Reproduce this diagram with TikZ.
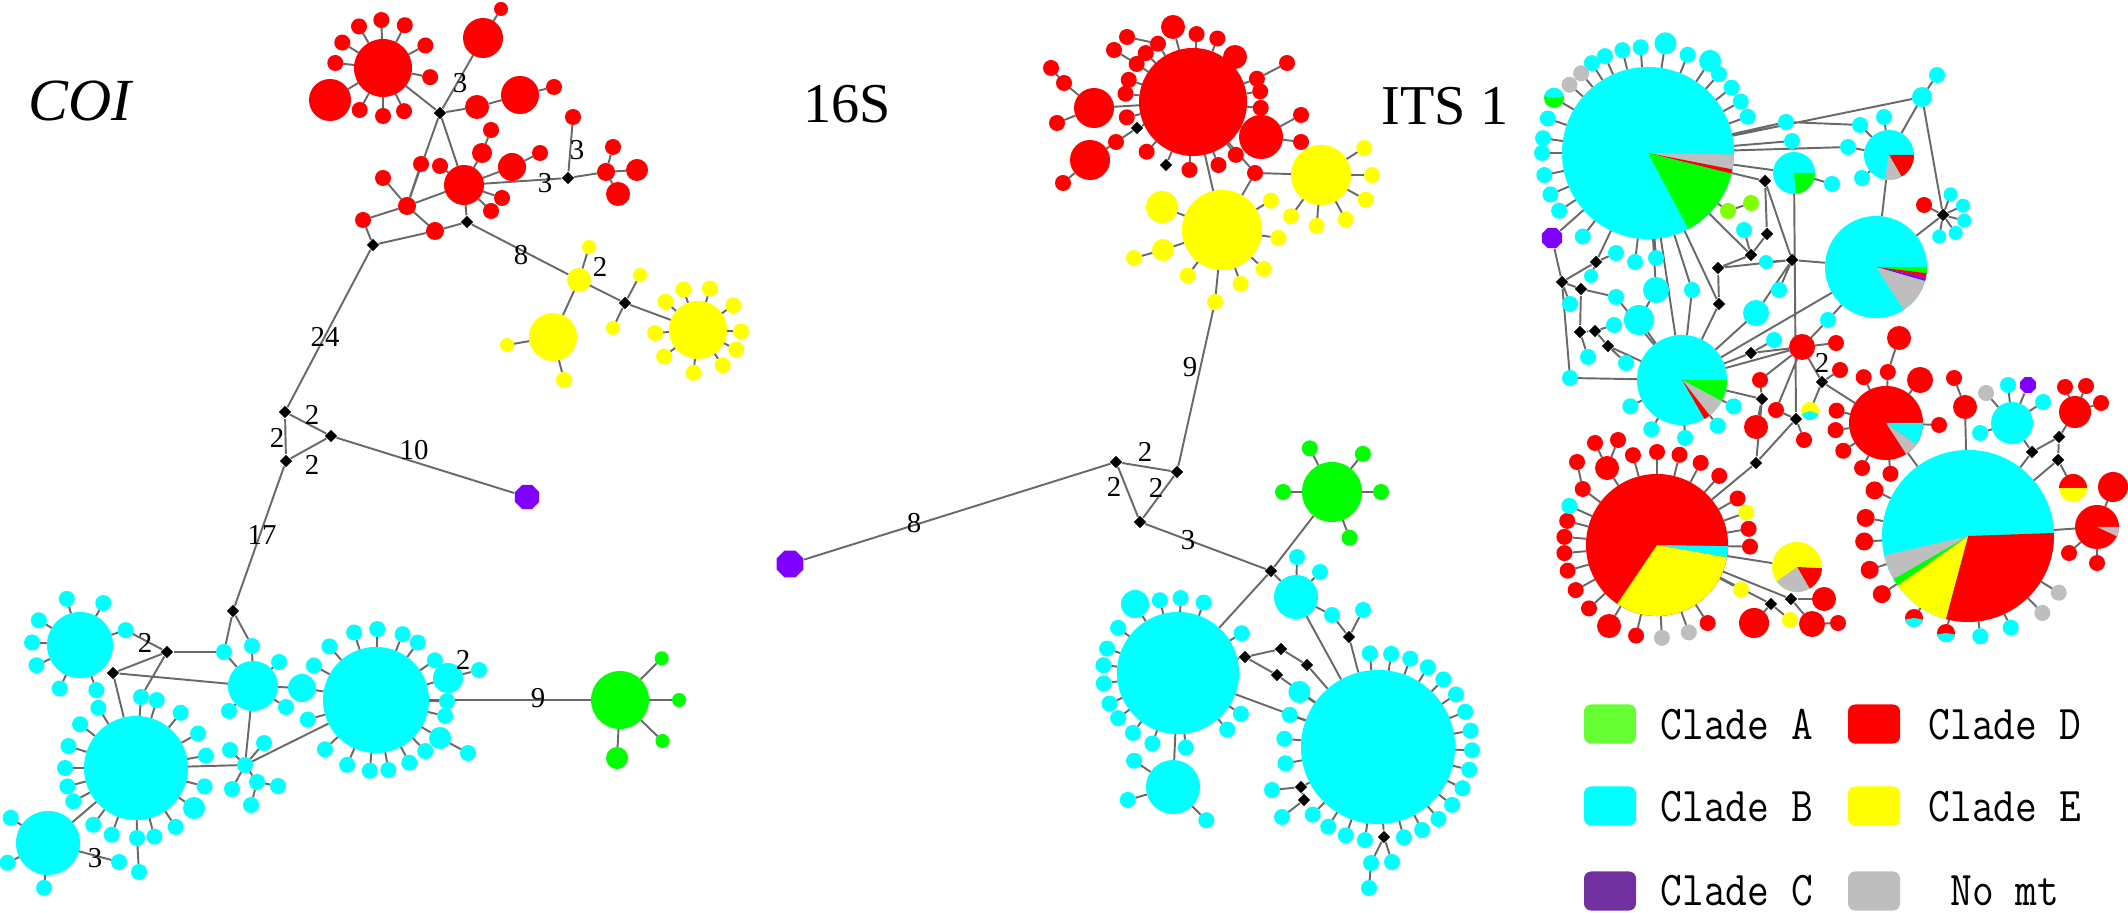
\documentclass[tikz,border=0pt]{standalone}
\usepackage{fontspec}
\setmainfont{Liberation Serif}
\usepackage{graphicx}
\usetikzlibrary{shapes.geometric,calc}
\definecolor{cR}{RGB}{255,0,0}
\definecolor{cC}{RGB}{0,255,255}
\definecolor{cY}{RGB}{255,255,0}
\definecolor{cG}{RGB}{0,255,0}
\definecolor{cL}{RGB}{128,255,0}
\definecolor{cP}{RGB}{128,0,255}
\definecolor{cGr}{RGB}{190,190,190}
\definecolor{lG}{RGB}{102,255,51}
\definecolor{lP}{RGB}{112,48,160}
\definecolor{edc}{RGB}{105,105,105}
\pgfdeclarelayer{back}
\pgfdeclarelayer{bg}
\pgfsetlayers{back,bg,main}
\newcommand\Hap[4]{\node[hp,fill=#4,minimum size=#3*0.2mm] (#1) at (#2) {};}
\newcommand\Dm[2]{\node[dm] (#1) at (#2) {};}
\newcommand\Ring[5]{\foreach \rA in {#5}{\node[hp,fill=#4,minimum size=#3*0.2mm] (#1-\rA) at ($(#1)+(\rA:#2)$) {};\begin{pgfonlayer}{bg}\draw[ed] (#1) -- (#1-\rA);\end{pgfonlayer}}}
\newcommand\Wedge[5]{\fill[#5] (#1.center) -- ++(#2:#4) arc[start angle=#2,end angle=#3,radius=#4] -- cycle;}
\newcommand\LT[1]{\scalebox{1}[1.15]{#1}}
\begin{document}
\begin{tikzpicture}[x=0.01cm,y=0.01cm,
  hp/.style={circle,inner sep=0pt,outer sep=0pt,draw=none},
  oct/.style={regular polygon,regular polygon sides=8,inner sep=0pt,draw=none},
  dm/.style={diamond,fill=black,inner sep=0pt,minimum size=0.13cm},
  ed/.style={draw=edc,line width=0.55pt},
  lab/.style={inner sep=0pt,font=\fontsize{8.2}{9}\selectfont},
  ttl/.style={inner sep=0pt,font=\fontsize{16}{18}\selectfont},
  lkey/.style={rectangle,rounded corners=2pt,inner sep=0pt,minimum width=0.52cm,minimum height=0.39cm,draw=none},
  legt/.style={anchor=west,inner sep=0pt,font=\ttfamily\fontsize{12}{13}\selectfont}]
\useasboundingbox (0,0) rectangle (2128,-913);
\begin{pgfonlayer}{back}\fill[white] (0,0) rectangle (2128,-913);\end{pgfonlayer}

% ================= COI =================
\node[ttl,font=\fontsize{17}{19}\selectfont\itshape] (tCOI) at (80,-101) {COI};
\Hap{aR1}{383,-68}{29}{cR}
\Ring{aR1}{48}{8}{cR}{120,92,63,28,-11,-64,-90,-119,174,148}
\Hap{aR2}{330,-100}{21}{cR}
\Dm{aD1}{440,-113}
\Hap{aR3}{483,-38}{20}{cR}
\Hap{aR3s}{501,-9}{7}{cR}
\Hap{aR4}{477,-107}{12}{cR}
\Hap{aR5}{520,-95}{19}{cR}
\Hap{aR5s}{554,-87}{8}{cR}
\Hap{aR6}{464,-185}{20}{cR}
\Hap{aRs1}{482,-153}{10}{cR}
\Hap{aRs2}{491,-130}{8}{cR}
\Hap{aRs3}{512,-167}{14}{cR}
\Hap{aRs4}{540,-153}{8}{cR}
\Hap{aRs5}{502,-198}{8}{cR}
\Hap{aRs6}{491,-211}{8}{cR}
\Hap{aRs7}{440,-166}{8}{cR}
\Hap{aRs8}{421,-164}{8}{cR}
\Hap{aRs9}{383,-178}{8}{cR}
\Hap{aN1}{407,-206}{9}{cR}
\Hap{aN2}{363,-220}{8}{cR}
\Hap{aN3}{435,-231}{9}{cR}
\Dm{aD2}{467,-222}
\Dm{aD3}{373,-245}
\Dm{aD4}{568,-178}
\Hap{aR7}{606,-172}{9}{cR}
\Hap{aR8}{613,-147}{8}{cR}
\Hap{aR9}{637,-170}{11}{cR}
\Hap{aR10}{618,-194}{12}{cR}
\Hap{aR11}{573,-117}{8}{cR}
\Hap{aY1}{579,-280}{12}{cY}
\Hap{aY1s}{589,-247}{7}{cY}
\Dm{aD5}{625,-303}
\Hap{aY2}{698,-330}{29}{cY}
\Ring{aY2}{43}{8}{cY}{139,110,74,35,-2,-27,-55,-96,-142,-176}
\Hap{aY3}{553,-337}{24}{cY}
\Hap{aY3a}{507,-345}{7}{cY}
\Hap{aY3b}{564,-380}{8}{cY}
\Hap{aY4}{640,-275}{7}{cY}
\Hap{aY5}{613,-328}{7}{cY}
\Dm{aD6}{285,-412}
\Dm{aD7}{331,-436}
\Dm{aD8}{286,-461}
\node[oct,fill=cP,minimum size=0.26cm] (aP) at (527,-497) {};
\Dm{aD9}{233,-611}
\Hap{aC1}{80,-645}{33}{cC}
\Ring{aC1}{48}{8}{cC}{106,61,149,177,-155,-115,-70,18}
\Dm{aD10}{167,-652}
\Dm{aD11}{113,-673}
\Hap{aC2}{224,-652}{8}{cC}
\Hap{aC3}{252,-646}{8}{cC}
\Hap{aC4}{253,-686}{25}{cC}
\Hap{aC4a}{279,-662}{8}{cC}
\Hap{aC4b}{286,-707}{8}{cC}
\Hap{aC4c}{229,-711}{8}{cC}
\Hap{aC5}{302,-688}{14}{cC}
\Hap{aC6}{376,-700}{53}{cC}
\Ring{aC6}{71}{8}{cC}{108,89,68,54,131,151,34,-1,-13,-46,-62,-80,-95,-114,-136,-164}
\Hap{aC7}{440,-738}{11}{cC}
\Hap{aC7s}{468,-753}{8}{cC}
\Hap{aC8}{448,-678}{15}{cC}
\Hap{aC8s}{479,-670}{8}{cC}
\Hap{aG}{620,-700}{29}{cG}
\Ring{aG}{59}{7}{cG}{45,0,-44}
\Hap{aGb}{617,-758}{11}{cG}
\Hap{aC9}{136,-768}{52}{cC}
\Ring{aC9}{71}{8}{cC}{122,73,51,29,10,-15,-56,-75,-110,-127,-152,-165,180,162,142}
\Hap{aC10}{141,-697}{8}{cC}
\Hap{aC11}{194,-808}{11}{cC}
\Hap{aC12}{137,-838}{8}{cC}
\Hap{aC13}{139,-872}{8}{cC}
\Hap{aC14}{245,-765}{8}{cC}
\Hap{aC14a}{264,-743}{8}{cC}
\Hap{aC14b}{230,-750}{8}{cC}
\Hap{aC14c}{257,-782}{8}{cC}
\Hap{aC14d}{278,-786}{8}{cC}
\Hap{aC14e}{232,-789}{8}{cC}
\Hap{aC14f}{251,-805}{8}{cC}
\Hap{aC15}{48,-843}{32}{cC}
\Ring{aC15}{45}{8}{cC}{146,-154,-95}
\Hap{aC16}{119,-862}{8}{cC}
\node[lab] (la1) at (460,-83) {3};
\node[lab] (la2) at (545,-183) {3};
\node[lab] (la3) at (577,-150) {3};
\node[lab] (la4) at (521,-255) {8};
\node[lab] (la5) at (600,-267) {2};
\node[lab] (la6) at (325,-337) {24};
\node[lab] (la7) at (312,-415) {2};
\node[lab] (la8) at (277,-438) {2};
\node[lab] (la9) at (312,-465) {2};
\node[lab] (la10) at (414,-450) {10};
\node[lab] (la11) at (262,-535) {17};
\node[lab] (la12) at (145,-643) {2};
\node[lab] (la13) at (463,-660) {2};
\node[lab] (la14) at (538,-698) {9};
\node[lab] (la15) at (95,-858) {3};

% ================= 16S =================
\node[ttl] (t16) at (847,-104) {16S};
\Hap{bR1}{1193,-102}{54}{cR}
\Ring{bR1}{68}{8}{cR}{134,121,87,69,20,9,-5,-51,-68,-93,-133,-167,173,161,146}
\Hap{bRa}{1173,-27}{12}{cR}
\Hap{bRb}{1235,-57}{12}{cR}
\Hap{bR2}{1094,-108}{20}{cR}
\Hap{bR2a}{1064,-83}{8}{cR}
\Hap{bR2b}{1051,-68}{8}{cR}
\Hap{bR2c}{1057,-123}{8}{cR}
\Hap{bR3}{1090,-160}{20}{cR}
\Hap{bR3a}{1116,-142}{8}{cR}
\Hap{bR3b}{1063,-183}{8}{cR}
\Dm{bD1}{1137,-128}
\Dm{bD2}{1166,-165}
\Hap{bR4}{1261,-137}{22}{cR}
\Hap{bR4a}{1301,-115}{8}{cR}
\Hap{bR4b}{1301,-142}{8}{cR}
\Hap{bR5}{1114,-50}{8}{cR}
\Hap{bR6}{1127,-37}{8}{cR}
\Hap{bR7}{1287,-63}{8}{cR}
\Hap{bRc}{1255,-173}{8}{cR}
\Hap{bY1}{1222,-230}{40}{cY}
\Ring{bY1}{57}{8}{cY}{31,-8,-43,-71,-127}
\Hap{bY1s}{1215,-302}{8}{cY}
\Hap{bY3}{1162,-207}{16}{cY}
\Hap{bY4}{1163,-250}{11}{cY}
\Hap{bY4a}{1134,-258}{8}{cY}
\Hap{bY2}{1321,-175}{30}{cY}
\Ring{bY2}{51}{8}{cY}{32,0,-29,-61,-95,-126}
\Dm{bD3}{1177,-472}
\Dm{bD4}{1116,-462}
\Dm{bD5}{1140,-522}
\Dm{bD6}{1271,-571}
\node[oct,fill=cP,minimum size=0.29cm] (bP) at (790,-564) {};
\Hap{bG}{1332,-492}{30}{cG}
\Ring{bG}{49}{8}{cG}{117,51,180,0,-69}
\Hap{bC1}{1178,-673}{61}{cC}
\Ring{bC1}{75}{8}{cC}{104,88,70,143,161,174,-172,-156,-143,-127,-110,-84,-49,-33,32}
\Hap{bC1a}{1135,-604}{14}{cC}
\Hap{bC2}{1296,-597}{22}{cC}
\Hap{bC2a}{1297,-557}{8}{cC}
\Hap{bC2b}{1320,-572}{8}{cC}
\Hap{bC2c}{1332,-615}{8}{cC}
\Dm{bD7}{1349,-637}
\Hap{bC2d}{1363,-610}{8}{cC}
\Hap{bC3}{1378,-747}{77}{cC}
\Ring{bC3}{94}{8}{cC}{95,82,70,58,46,34,22,10,-2,-14,-26,-38,-50,-62,-74,-98,-110,-122,-134,-170,175,160}
\Ring{bC3}{96}{11}{cC}{145}
\Dm{bD8}{1245,-657}
\Dm{bD9}{1281,-649}
\Dm{bD10}{1307,-665}
\Dm{bD11}{1277,-675}
\Dm{bD12}{1301,-787}
\Dm{bD13}{1304,-800}
\Dm{bD14}{1384,-837}
\Hap{bC3x}{1272,-790}{8}{cC}
\Hap{bC3y}{1282,-817}{8}{cC}
\Hap{bB1}{1371,-863}{8}{cC}
\Hap{bB2}{1392,-862}{8}{cC}
\Hap{bB3}{1369,-888}{8}{cC}
\Hap{bC4}{1173,-787}{27}{cC}
\Ring{bC4}{47}{8}{cC}{-164,-45,146}
\node[lab] (lb1) at (1190,-367) {9};
\node[lab] (lb2) at (1145,-452) {2};
\node[lab] (lb3) at (1114,-487) {2};
\node[lab] (lb4) at (1156,-488) {2};
\node[lab] (lb5) at (1188,-540) {3};
\node[lab] (lb6) at (914,-523) {8};

% ================= ITS 1 =================
\node[ttl] (tITS) at (1445,-106) {ITS 1};
\Hap{cC1}{1648,-153}{86}{cC}
\Ring{cC1}{106}{8}{cC}{94,104,114,122,161,172,180,-168,-157,-147,68,48,38,29,20,-128}
\Ring{cC1}{104}{8}{cGr}{130,139}
\Ring{cC1}{111}{11}{cC}{81,56}
\Hap{cH1}{1554,-98}{10}{cG}
\node[oct,fill=cP,minimum size=0.22cm] (cP1) at (1552,-238) {};
\Hap{cL2}{1751,-203}{8}{cL}
\Hap{cL3}{1728,-211}{8}{cL}
\Hap{cC2}{1794,-173}{21}{cC}
\Hap{cC3}{1889,-155}{25}{cC}
\Hap{cC4}{1876,-267}{51}{cC}
\Hap{cT1}{1922,-97}{10}{cC}
\Hap{cT1a}{1937,-75}{8}{cC}
\Hap{cT2}{1786,-122}{8}{cC}
\Hap{cT3}{1860,-125}{8}{cC}
\Hap{cT4}{1792,-141}{8}{cC}
\Hap{cT5}{1848,-147}{8}{cC}
\Hap{cT6}{1884,-117}{8}{cC}
\Hap{cT7}{1862,-178}{8}{cC}
\Hap{cT8}{1832,-184}{8}{cC}
\Dm{cDk}{1943,-215}
\Ring{cDk}{22}{7}{cC}{70,25,-15,-55,-100}
\Hap{cDkr}{1924,-205}{8}{cR}
\Dm{cd1}{1765,-181}
\Dm{cd2}{1767,-234}
\Dm{cd3}{1751,-255}
\Dm{cd4}{1718,-268}
\Dm{cd5}{1719,-304}
\Dm{cd6}{1792,-260}
\Dm{cd7}{1596,-262}
\Dm{cd8}{1562,-282}
\Dm{cd9}{1581,-289}
\Dm{cd10}{1580,-332}
\Dm{cd11}{1595,-331}
\Dm{cd12}{1608,-346}
\Dm{cd13}{1751,-353}
\Dm{cd14}{1762,-399}
\Dm{cd15}{1796,-419}
\Dm{cd16}{1822,-382}
\Dm{cd17}{1756,-463}
\Dm{cd18}{2032,-452}
\Dm{cd19}{2059,-437}
\Dm{cd20}{2058,-460}
\Dm{cd21}{1771,-604}
\Dm{cd22}{1791,-599}
\Hap{cM1}{1656,-290}{13}{cC}
\Hap{cM2}{1639,-320}{15}{cC}
\Hap{cM3}{1756,-313}{13}{cC}
\Hap{cM4}{1616,-297}{8}{cC}
\Hap{cM5}{1635,-262}{8}{cC}
\Hap{cM6}{1656,-258}{8}{cC}
\Hap{cM7}{1616,-253}{8}{cC}
\Hap{cM8}{1591,-276}{7}{cC}
\Hap{cM9}{1570,-304}{8}{cC}
\Hap{cM10}{1588,-357}{8}{cC}
\Hap{cM11}{1626,-363}{8}{cC}
\Hap{cM12}{1614,-325}{8}{cC}
\Hap{cM13}{1692,-290}{8}{cC}
\Hap{cM14}{1744,-230}{8}{cC}
\Hap{cM15}{1766,-262}{7}{cC}
\Hap{cM16}{1779,-290}{8}{cC}
\Hap{cM17}{1774,-340}{8}{cC}
\Hap{cM18}{1828,-320}{8}{cC}
\Hap{cM19}{1570,-378}{8}{cC}
\Hap{cC5}{1682,-380}{45}{cC}
\Ring{cC5}{58}{8}{cC}{-153,-122,-87,-52,-27}
\Hap{cR3}{1802,-347}{13}{cR}
\Hap{cRa}{1760,-380}{8}{cR}
\Hap{cRb}{1776,-410}{8}{cR}
\Hap{cRc}{1756,-427}{12}{cR}
\Hap{cRd}{1804,-440}{8}{cR}
\Hap{cRe}{1836,-343}{8}{cR}
\Hap{cRf}{1840,-370}{8}{cR}
\Hap{cH2}{1810,-411}{9}{cY}
\Hap{cR1}{1886,-423}{37}{cR}
\Ring{cR1}{51}{8}{cR}{116,88,-172,166,-147,-118,-85}
\Hap{cR1b}{1899,-338}{12}{cR}
\Hap{cR1c}{1920,-380}{13}{cR}
\Hap{cR1d}{1939,-425}{8}{cR}
\Hap{cC7}{2012,-423}{21}{cC}
\Hap{cC7a}{1986,-393}{8}{cGr}
\Hap{cC7b}{2008,-385}{8}{cC}
\node[oct,fill=cP,minimum size=0.17cm] (cC7c) at (2028,-385) {};
\Hap{cC7d}{2043,-402}{8}{cC}
\Hap{cC7e}{1980,-433}{8}{cC}
\Hap{cRr}{1965,-407}{12}{cR}
\Hap{cRr2}{1954,-378}{8}{cR}
\Hap{cRg}{2075,-412}{16}{cR}
\Hap{cRga}{2065,-387}{8}{cR}
\Hap{cRgb}{2086,-386}{8}{cR}
\Hap{cRgc}{2101,-403}{8}{cR}
\Hap{cX}{2073,-488}{14}{cY}
\Hap{cR4}{2097,-527}{22}{cR}
\Hap{cR4a}{2113,-487}{15}{cR}
\Hap{cR4b}{2097,-563}{8}{cR}
\Hap{cR4c}{2069,-553}{8}{cR}
\Hap{cC6}{1968,-536}{86}{cC}
\Ring{cC6}{104}{9}{cR}{154,170,-177,-161,-146}
\Ring{cC6}{101}{8}{cC}{-83,-65}
\Ring{cC6}{107}{8}{cGr}{-46,-32}
\Hap{cH3}{1914,-618}{9}{cR}
\Hap{cH4}{1946,-633}{9}{cR}
\Hap{cR2}{1657,-545}{71}{cR}
\Ring{cR2}{93}{8}{cR}{105,90,76,62,48,143,165,175,-175,-164,-151,-137,-103,-57,30,10,-1}
\Ring{cR2}{96}{8}{cC}{156}
\Ring{cR2}{93}{8}{cGr}{-87,-70}
\Ring{cR2}{95}{8}{cY}{20,-28}
\Hap{cR2a}{1609,-626}{12}{cR}
\Hap{cR2b}{1607,-468}{12}{cR}
\Hap{cR2c}{1595,-443}{8}{cR}
\Hap{cR2d}{1618,-440}{8}{cR}
\Hap{cR2e}{1577,-462}{8}{cR}
\Hap{cY1}{1797,-567}{25}{cY}
\Hap{cYa}{1754,-623}{15}{cR}
\Hap{cYb}{1790,-620}{8}{cY}
\Hap{cYc}{1812,-624}{13}{cR}
\Hap{cYd}{1838,-623}{8}{cR}
\Hap{cYe}{1824,-599}{12}{cR}
\node[lab] (lc1) at (1822,-363) {2};
% pies
\Wedge{cC1}{-1}{-11}{86}{cGr}
\Wedge{cC1}{-11}{-14}{86}{cR}
\Wedge{cC1}{-14}{-62}{86}{cG}
\Wedge{cC2}{0}{-85}{21}{cG}
\Wedge{cC3}{0}{-60}{25}{cR}
\Wedge{cC3}{-60}{-100}{25}{cGr}
\Wedge{cC4}{0}{-7}{51}{cG}
\Wedge{cC4}{-7}{-12}{51}{cR}
\Wedge{cC4}{-12}{-16}{51}{cP}
\Wedge{cC4}{-16}{-57}{51}{cGr}
\Wedge{cC5}{0}{-28}{45}{cG}
\Wedge{cC5}{-28}{-52}{45}{cGr}
\Wedge{cC5}{-52}{-60}{45}{cR}
\Wedge{cR1}{0}{-35}{37}{cC}
\Wedge{cR1}{-35}{-57}{37}{cGr}
\Wedge{cR2}{-1}{-10}{71}{cC}
\Wedge{cR2}{-10}{-124}{71}{cY}
\Wedge{cY1}{-3}{-60}{25}{cR}
\Wedge{cY1}{-60}{-145}{25}{cGr}
\Wedge{cC6}{2}{-105}{86}{cR}
\Wedge{cC6}{-105}{-145}{86}{cY}
\Wedge{cC6}{-145}{-150}{86}{cG}
\Wedge{cC6}{-150}{-167}{86}{cGr}
\Wedge{cR4}{0}{-25}{22}{cGr}
\Wedge{cX}{0}{180}{14}{cR}
\Wedge{cH1}{10}{170}{10}{cC}
\Wedge{cH2}{-160}{-20}{9}{cC}
\Wedge{cH3}{-170}{-10}{9}{cC}
\Wedge{cH4}{-170}{-10}{9}{cC}

% ================= legend =================
\node[lkey,fill=lG] (kA) at (1610,-724) {};
\node[lkey,fill=cC] (kB) at (1610,-806) {};
\node[lkey,fill=lP] (kC) at (1610,-891) {};
\node[lkey,fill=cR] (kD) at (1874,-724) {};
\node[lkey,fill=cY] (kE) at (1874,-806) {};
\node[lkey,fill=cGr] (kF) at (1874,-891) {};
\node[legt] (tA) at (1660,-725) {\LT{Clade A}};
\node[legt] (tB) at (1660,-807) {\LT{Clade B}};
\node[legt] (tC) at (1660,-891) {\LT{Clade C}};
\node[legt] (tD) at (1928,-725) {\LT{Clade D}};
\node[legt] (tE) at (1928,-807) {\LT{Clade E}};
\node[legt] (tF) at (1950,-891) {\LT{No mt}};

% ================= connectors =================
\begin{pgfonlayer}{bg}
\draw[ed] (aD1)--(aR1) (aD1)--(aR4) (aR4)--(aR5) (aR5)--(aR5s) (aD1)--(aR3) (aR3)--(aR3s) (aR1)--(aR2)
 (aD1)--(aN1) (aD1)--(aR6) (aR6)--(aRs1) (aRs1)--(aRs2) (aR6)--(aRs3) (aRs3)--(aRs4) (aR6)--(aRs5)
 (aR6)--(aRs6) (aR6)--(aRs7) (aN1)--(aRs8) (aN1)--(aRs9) (aN1)--(aR6) (aN1)--(aN2) (aN1)--(aN3)
 (aN3)--(aD2) (aD2)--(aR6) (aN2)--(aD3) (aD3)--(aN3)
 (aR6)--(aD4) (aD4)--(aR7) (aR7)--(aR8) (aR7)--(aR9) (aR7)--(aR10) (aD4)--(aR11)
 (aD2)--(aY1) (aY1)--(aY1s) (aY1)--(aD5) (aD5)--(aY2) (aD5)--(aY4) (aD5)--(aY5) (aY1)--(aY3)
 (aY3)--(aY3a) (aY3)--(aY3b)
 (aD3)--(aD6) (aD6)--(aD7) (aD6)--(aD8) (aD7)--(aD8) (aD7)--(aP) (aD8)--(aD9) (aD9)--(aC2) (aD9)--(aC3)
 (aD10)--(aC2) (aD10)--(aD11) (aD10)--(aC10) (aC1-18)--(aD10) (aD11)--(aC9) (aD11)--(aC4)
 (aC2)--(aC4) (aC3)--(aC4) (aC4)--(aC4a) (aC4)--(aC4b) (aC4)--(aC4c)
 (aC4)--(aC14) (aC14)--(aC9) (aC14)--(aC6) (aC14)--(aC14a) (aC14)--(aC14b) (aC14)--(aC14c)
 (aC14c)--(aC14d) (aC14)--(aC14e) (aC14c)--(aC14f)
 (aC4)--(aC5) (aC5)--(aC6) (aC6)--(aC8) (aC8)--(aC8s) (aC6)--(aC7) (aC7)--(aC7s) (aC6)--(aG) (aG)--(aGb)
 (aC9)--(aC15) (aC15)--(aC16) (aC9)--(aC12) (aC12)--(aC13) (aC9)--(aC11) (aC9)--(aC10);
\draw[ed] (bR1)--(bRa) (bR1)--(bRb) (bR1)--(bR2) (bR2)--(bR2a) (bR2a)--(bR2b) (bR2)--(bR2c)
 (bR3)--(bR3a) (bR3a)--(bD1) (bD1)--(bR1) (bR3)--(bR3b) (bD2)--(bR1)
 (bR1)--(bR4) (bR4)--(bR4a) (bR4)--(bR4b) (bR1-146)--(bR5) (bR1-121)--(bR6) (bR1-20)--(bR7)
 (bR1)--(bY1) (bR1)--(bRc) (bRc)--(bY1) (bRc)--(bY2) (bY1)--(bY1s) (bY1)--(bY3) (bY1)--(bY4) (bY4)--(bY4a)
 (bY1s)--(bD3) (bD3)--(bD4) (bD4)--(bD5) (bD3)--(bD5) (bD4)--(bP) (bD5)--(bD6) (bD6)--(bG) (bD6)--(bC1) (bD6)--(bC2)
 (bC1)--(bC1a) (bC1)--(bC4) (bC1)--(bD8) (bD8)--(bD9) (bD9)--(bD10) (bD8)--(bD11) (bD11)--(bC3)
 (bD10)--(bC3) (bC1)--(bC3) (bC2)--(bC3) (bC2)--(bC2a) (bC2)--(bC2b) (bC2)--(bC2c) (bC2c)--(bD7)
 (bD7)--(bC2d) (bD7)--(bC3) (bC3)--(bD12) (bD12)--(bD13) (bD12)--(bC3x) (bD13)--(bC3y)
 (bC3)--(bD14) (bD14)--(bB1) (bD14)--(bB2) (bB1)--(bB3);
\draw[ed] (cC1)--(cH1) (cC1)--(cP1) (cC1)--(cL3) (cL3)--(cL2)
 (cC1)--(cT1) (cT1)--(cT1a) (cC1)--(cT2) (cT2)--(cT3) (cT3)--(cC3) (cC1)--(cT4) (cC1)--(cT5)
 (cT5)--(cC3) (cC3)--(cT6) (cC3)--(cT7) (cT1)--(cC3) (cT1)--(cDk) (cC1)--(cC2) (cC2)--(cT8)
 (cC3)--(cC4) (cC4)--(cDk) (cDk)--(cDkr)
 (cC1)--(cd1) (cd1)--(cd2) (cd1)--(cd6) (cd2)--(cd3) (cd3)--(cd4) (cd3)--(cM14) (cC1)--(cd3)
 (cd4)--(cd6) (cd4)--(cd5) (cC1)--(cd5) (cd5)--(cC5) (cd6)--(cM15) (cd6)--(cM16) (cd6)--(cC4)
 (cC1)--(cd7) (cd7)--(cd8) (cd8)--(cd9) (cP1)--(cd8) (cd8)--(cM9) (cd8)--(cM19) (cM19)--(cC5)
 (cd9)--(cd10) (cd10)--(cd11) (cd11)--(cd12) (cd12)--(cC5) (cd10)--(cM10) (cd7)--(cM8) (cd7)--(cM7)
 (cC1)--(cM5) (cC1)--(cM6) (cC1)--(cM1) (cM1)--(cM2) (cM2)--(cC5) (cd9)--(cM4) (cM4)--(cC5)
 (cC1)--(cM13) (cM13)--(cC5) (cC1)--(cC5) (cM12)--(cd11) (cM11)--(cd12)
 (cC4)--(cM18) (cM18)--(cR3) (cd6)--(cM3) (cM3)--(cC5) (cC5)--(cC4) (cM17)--(cd13)
 (cC5)--(cR3) (cC5)--(cd13) (cd13)--(cR3) (cC5)--(cd14) (cd14)--(cRa) (cRa)--(cR3)
 (cC2)--(cd15) (cd15)--(cRb) (cd15)--(cRd) (cd15)--(cd17) (cd14)--(cRc) (cd14)--(cd17) (cRb)--(cR3)
 (cR3)--(cd16) (cd16)--(cR1) (cd16)--(cH2) (cR3)--(cRe) (cd16)--(cRf)
 (cR1-88)--(cR1b) (cR1)--(cR1c) (cR1)--(cR1d) (cR1)--(cC6)
 (cC7)--(cC7a) (cC7)--(cC7b) (cC7)--(cC7c) (cC7)--(cC7d) (cC7)--(cC7e) (cC7)--(cd18) (cd18)--(cC6)
 (cd18)--(cd19) (cd19)--(cRg) (cRg)--(cRga) (cRg)--(cRgb) (cRg)--(cRgc) (cd19)--(cd20) (cd20)--(cX)
 (cd20)--(cC6) (cRr)--(cC6) (cRr)--(cRr2)
 (cC6)--(cR4) (cR4)--(cR4a) (cR4)--(cR4b) (cR4)--(cR4c) (cC6)--(cH3) (cC6)--(cH4)
 (cR2)--(cY1) (cR2)--(cd17) (cR2)--(cd21) (cd21)--(cYa) (cd21)--(cYb) (cR2)--(cd22) (cd22)--(cYc)
 (cYc)--(cYd) (cd22)--(cYe) (cR2)--(cR2a) (cR2)--(cR2b) (cR2b)--(cR2c) (cR2b)--(cR2d) (cR2-143)--(cR2e);
\end{pgfonlayer}
\end{tikzpicture}
\end{document}
